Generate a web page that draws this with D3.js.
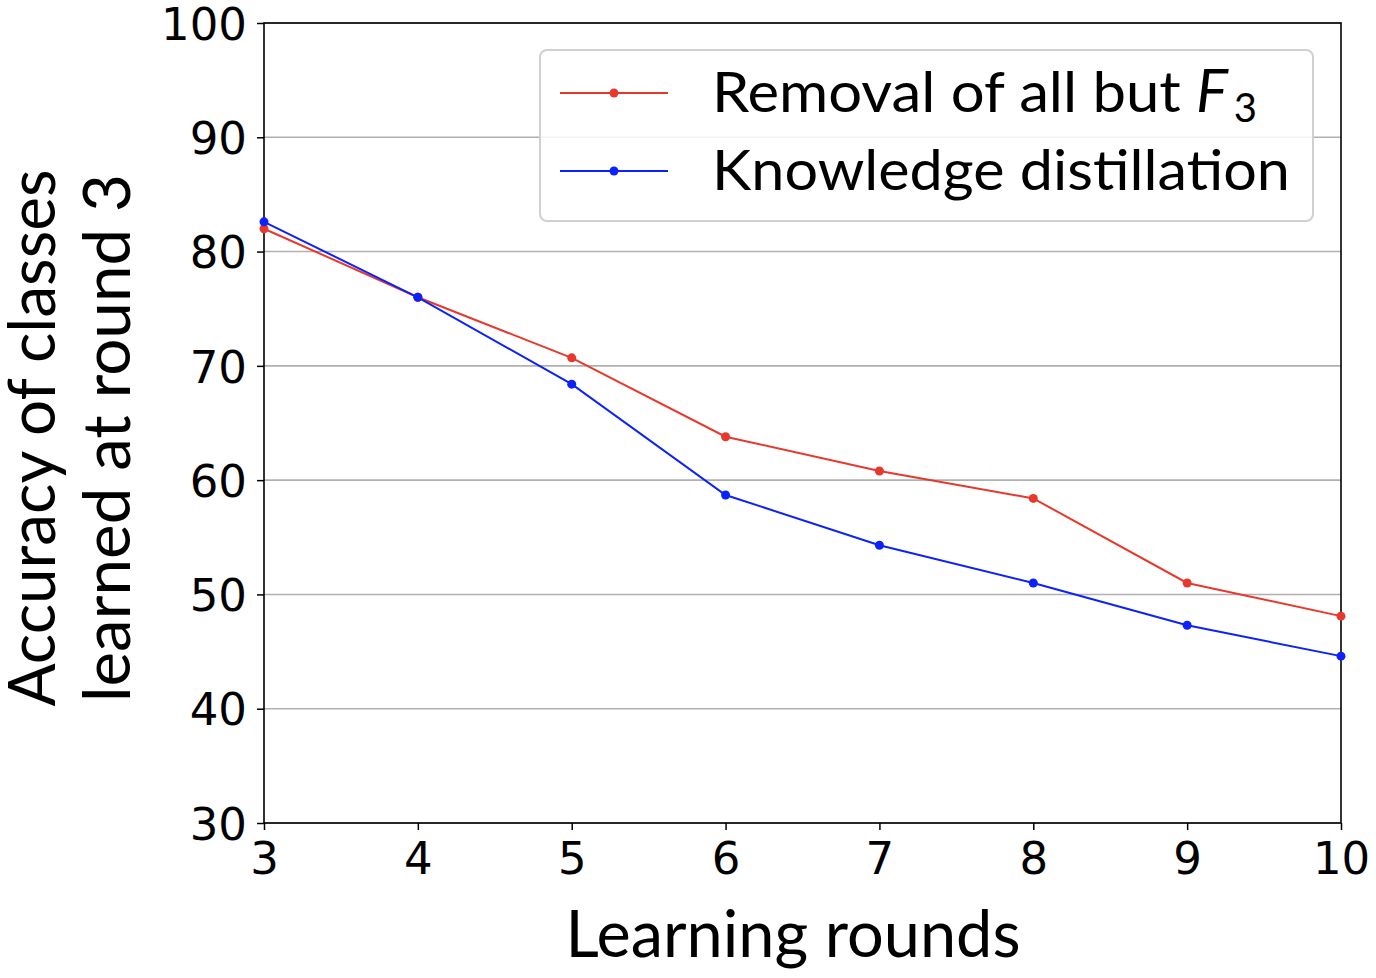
<!DOCTYPE html>
<html>
<head>
<meta charset="utf-8">
<title>Accuracy of classes learned at round 3</title>
<script src="https://d3js.org/d3.v7.min.js"></script>
<style>
  body { margin: 0; background: #fff; }
</style>
</head>
<body>
<div id="chart"></div>
<script>
// learning rounds on x
var rounds = [3, 4, 5, 6, 7, 8, 9, 10];
// accuracy (%) of classes learned at round 3
var removalAcc = [82.0, 76.0, 70.7, 63.8, 60.8, 58.4, 51.0, 48.1];
var distillAcc = [82.6, 76.0, 68.4, 58.7, 54.3, 51.0, 47.3, 44.6];
var yTicks = [30, 40, 50, 60, 70, 80, 90, 100];
var seriesNames = ["Removal of all but ", "Knowledge distillation"];
var seriesColors = ["#e8382c", "#0b22fb"];

var W = 1376, H = 978;
var m = {left: 264, right: 35, top: 23, bottom: 155};
var iw = W - m.left - m.right, ih = H - m.top - m.bottom;

var svg = d3.select("#chart").append("svg")
    .attr("width", W).attr("height", H);

var x = d3.scaleLinear().domain([3, 10]).range([m.left, m.left + iw]);
var y = d3.scaleLinear().domain([30, 100]).range([m.top + ih, m.top]);

// grid lines
svg.append("g").selectAll("line")
    .data(yTicks)
    .enter().append("line")
    .attr("x1", m.left).attr("x2", m.left + iw)
    .attr("y1", function(d) { return y(d); })
    .attr("y2", function(d) { return y(d); })
    .attr("stroke", "#b0b0b0").attr("stroke-width", 1.6);

// axes
var xAxis = svg.append("g")
    .attr("transform", "translate(0," + (m.top + ih) + ")")
    .call(d3.axisBottom(x).tickValues(rounds).tickFormat(d3.format("d"))
        .tickSize(7).tickPadding(8));
var yAxis = svg.append("g")
    .attr("transform", "translate(" + m.left + ",0)")
    .call(d3.axisLeft(y).tickValues(yTicks).tickFormat(d3.format("d"))
        .tickSize(7).tickPadding(10));
[xAxis, yAxis].forEach(function(a) {
    a.attr("font-family", "'DejaVu Sans', sans-serif");
    a.select(".domain").remove();
    a.selectAll(".tick line").attr("stroke", "#000").attr("stroke-width", 1.5);
    a.selectAll(".tick text")
        .attr("font-family", "'DejaVu Sans', sans-serif")
        .attr("font-size", 45).attr("fill", "#000");
});
xAxis.selectAll(".tick text").attr("dy", "0.8em");
yAxis.selectAll(".tick text").attr("dy", "0.36em");

// frame
svg.append("rect")
    .attr("x", m.left).attr("y", m.top)
    .attr("width", iw).attr("height", ih)
    .attr("fill", "none").attr("stroke", "#000").attr("stroke-width", 1.6);

// lines + markers
var line = d3.line()
    .x(function(d) { return x(d[0]); })
    .y(function(d) { return y(d[1]); });

[removalAcc, distillAcc].forEach(function(vals, i) {
    var pts = rounds.map(function(r, j) { return [r, vals[j]]; });
    var g = svg.append("g");
    g.append("path")
        .datum(pts)
        .attr("d", line)
        .attr("fill", "none")
        .attr("stroke", seriesColors[i])
        .attr("stroke-width", 2);
    g.selectAll("circle")
        .data(pts)
        .enter().append("circle")
        .attr("cx", function(d) { return x(d[0]); })
        .attr("cy", function(d) { return y(d[1]); })
        .attr("r", 4.5)
        .attr("fill", seriesColors[i]);
});

// legend
var lg = svg.append("g");
lg.append("rect")
    .attr("x", 540).attr("y", 50)
    .attr("width", 773).attr("height", 171)
    .attr("rx", 7)
    .attr("fill", "#fff").attr("fill-opacity", 0.85)
    .attr("stroke", "#d0d0d0").attr("stroke-width", 2);

var rowY = [93, 171];
seriesNames.forEach(function(name, i) {
    lg.append("line")
        .attr("x1", 560).attr("x2", 668)
        .attr("y1", rowY[i]).attr("y2", rowY[i])
        .attr("stroke", seriesColors[i]).attr("stroke-width", 2);
    lg.append("circle")
        .attr("cx", 614).attr("cy", rowY[i]).attr("r", 4.5)
        .attr("fill", seriesColors[i]);
});

var t1 = lg.append("text")
    .attr("x", 712).attr("y", 112)
    .attr("font-family", "Lato, sans-serif")
    .attr("font-size", 56);
t1.append("tspan").text(seriesNames[0])
    .attr("textLength", 484).attr("lengthAdjust", "spacingAndGlyphs");
t1.append("tspan").text("F").attr("font-style", "italic").attr("font-size", 60);
t1.append("tspan").text("3").attr("font-size", 40).attr("dy", 10).attr("dx", 6);

lg.append("text")
    .attr("x", 712).attr("y", 190)
    .attr("font-family", "Lato, sans-serif")
    .attr("font-size", 56)
    .attr("textLength", 578).attr("lengthAdjust", "spacingAndGlyphs")
    .text(seriesNames[1]);

// axis titles
svg.append("text")
    .attr("x", 793).attr("y", 957)
    .attr("text-anchor", "middle")
    .attr("font-family", "Lato, sans-serif")
    .attr("font-size", 66)
    .attr("textLength", 455).attr("lengthAdjust", "spacingAndGlyphs")
    .text("Learning rounds");

var yl = svg.append("g").attr("transform", "translate(0,438) rotate(-90)");
yl.append("text")
    .attr("x", 0).attr("y", 55)
    .attr("text-anchor", "middle")
    .attr("font-family", "Lato, sans-serif")
    .attr("font-size", 66)
    .attr("textLength", 537).attr("lengthAdjust", "spacingAndGlyphs")
    .text("Accuracy of classes");
yl.append("text")
    .attr("x", 0).attr("y", 130)
    .attr("text-anchor", "middle")
    .attr("font-family", "Lato, sans-serif")
    .attr("font-size", 66)
    .attr("textLength", 528).attr("lengthAdjust", "spacingAndGlyphs")
    .text("learned at round 3");
</script>
</body>
</html>
